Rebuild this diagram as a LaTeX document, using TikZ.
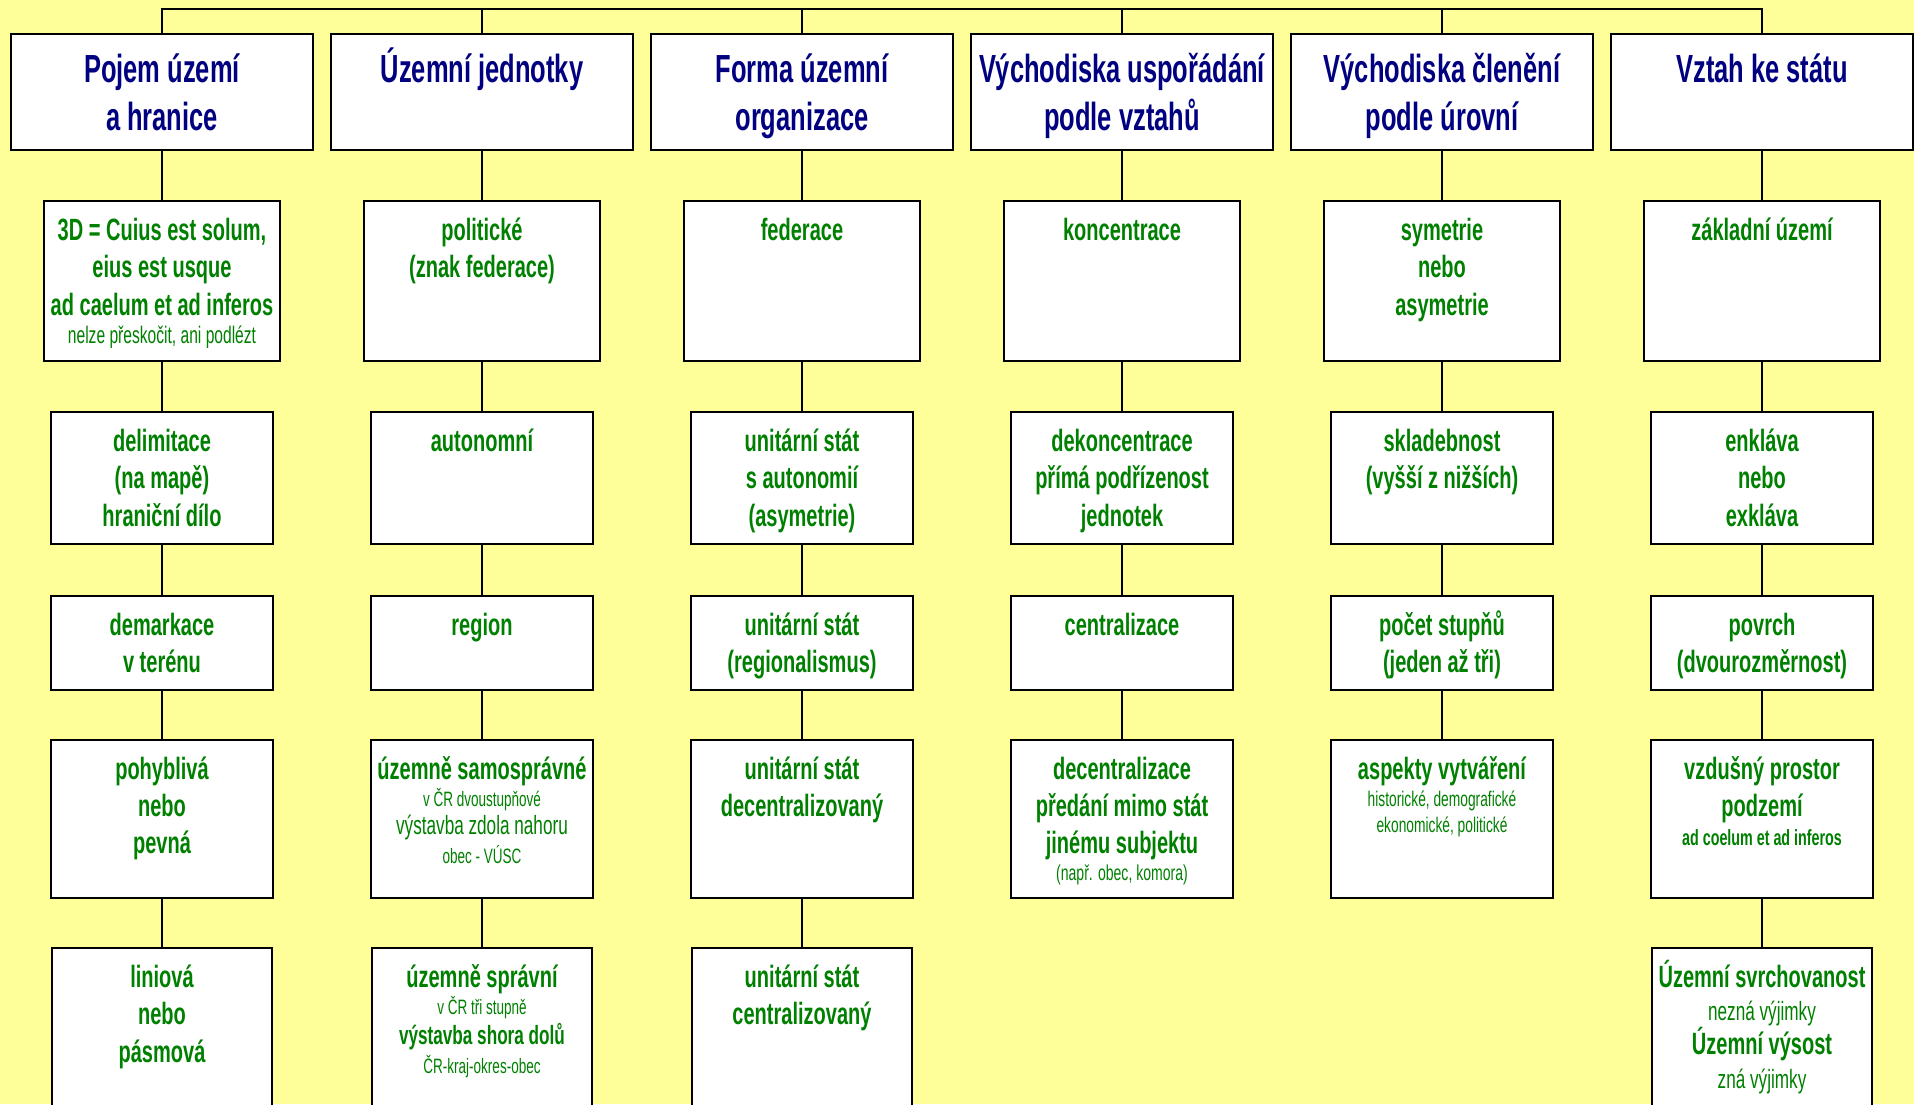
\documentclass[tikz,border=0pt]{standalone}
\usepackage{fontspec}
\setmainfont[FakeStretch=0.65]{Liberation Sans}
\usetikzlibrary{positioning}

\definecolor{bgyellow}{RGB}{255,255,153}
\definecolor{headblue}{RGB}{0,0,128}
\definecolor{itemgreen}{RGB}{0,128,0}

% one line of text inside a box, each line is its own paragraph
\newcommand{\headtxt}[1]{{\fontsize{19.6}{24.4}\selectfont\bfseries #1\par}}
\newcommand{\itemtxt}[2][18.6]{{\fontsize{15.4}{#1}\selectfont\bfseries #2\par}}
\newcommand{\notetxt}[3][15]{{\fontsize{#2}{#1}\selectfont #3\par}}

\begin{document}
\begin{tikzpicture}[
    x=0.5pt, y=-0.5pt,
    headbox/.style={draw=black, line width=1pt, fill=white, inner sep=0pt, anchor=north, text=headblue,
        execute at begin node={\begin{minipage}[t][58pt][t]{151.35pt}\centering\leavevmode\rule{0pt}{24pt}},
        execute at end node={\end{minipage}}},
    itembox/.style 2 args={draw=black, line width=1pt, fill=white, inner sep=0pt, anchor=north, text=itemgreen,
        execute at begin node={\begin{minipage}[t][#2][t]{#1}\centering\leavevmode\rule{0pt}{19.8pt}},
        execute at end node={\end{minipage}}},
    rowtwo/.style={itembox={117.8pt}{80pt}},
    rowthree/.style={itembox={111pt}{66pt}},
    rowfour/.style={itembox={111pt}{47pt}},
    rowfive/.style={itembox={111pt}{79.25pt}},
    rowsix/.style={itembox={110pt}{100pt}},
    link/.style={line width=0.7pt, draw=black}
]

\useasboundingbox (0,0) rectangle (1914,1104);
\fill[bgyellow] (0,0) rectangle (1914,1104);
\clip (0,0) rectangle (1914,1104);

% Headers
\node[headbox] (pojem) at (162,33) {\headtxt{Pojem území}\headtxt{a hranice}};
\node[headbox] (jednotky) at (482,33) {\headtxt{Územní jednotky}};
\node[headbox] (forma) at (802,33) {\headtxt{Forma územní}\headtxt{organizace}};
\node[headbox] (vztahy) at (1122,33) {\headtxt{Východiska uspořádání}\headtxt{podle vztahů}};
\node[headbox] (urovne) at (1442,33) {\headtxt{Východiska členění}\headtxt{podle úrovní}};
\node[headbox] (stat) at (1762,33) {\headtxt{Vztah ke státu}};

\coordinate (bus) at (0,9);

% Second row
\node[rowtwo] (pojemA) at (162,200) {\itemtxt{3D = Cuius est solum,}\itemtxt{eius est usque}\itemtxt{ad caelum et ad inferos}\notetxt[14.4]{12}{nelze přeskočit, ani podlézt}};
\node[rowtwo] (jednotkyA) at (482,200) {\itemtxt{politické}\itemtxt{(znak federace)}};
\node[rowtwo] (formaA) at (802,200) {\itemtxt{federace}};
\node[rowtwo] (vztahyA) at (1122,200) {\itemtxt{koncentrace}};
\node[rowtwo] (urovneA) at (1442,200) {\itemtxt{symetrie}\itemtxt{nebo}\itemtxt{asymetrie}};
\node[rowtwo] (statA) at (1762,200) {\itemtxt{základní území}};

% Third row
\node[rowthree] (pojemB) at (162,411) {\itemtxt{delimitace}\itemtxt{(na mapě)}\itemtxt{hraniční dílo}};
\node[rowthree] (jednotkyB) at (482,411) {\itemtxt{autonomní}};
\node[rowthree] (formaB) at (802,411) {\itemtxt{unitární stát}\itemtxt{s autonomií}\itemtxt{(asymetrie)}};
\node[rowthree] (vztahyB) at (1122,411) {\itemtxt{dekoncentrace}\itemtxt{přímá podřízenost}\itemtxt{jednotek}};
\node[rowthree] (urovneB) at (1442,411) {\itemtxt{skladebnost}\itemtxt{(vyšší z nižších)}};
\node[rowthree] (statB) at (1762,411) {\itemtxt{enkláva}\itemtxt{nebo}\itemtxt{exkláva}};

% Fourth row
\node[rowfour] (pojemC) at (162,594.5) {\itemtxt{demarkace}\itemtxt{v terénu}};
\node[rowfour] (jednotkyC) at (482,594.5) {\itemtxt{region}};
\node[rowfour] (formaC) at (802,594.5) {\itemtxt{unitární stát}\itemtxt{(regionalismus)}};
\node[rowfour] (vztahyC) at (1122,594.5) {\itemtxt{centralizace}};
\node[rowfour] (urovneC) at (1442,594.5) {\itemtxt{počet stupňů}\itemtxt{(jeden až tři)}};
\node[rowfour] (statC) at (1762,594.5) {\itemtxt{povrch}\itemtxt{(dvourozměrnost)}};

% Fifth row
\node[rowfive] (pojemD) at (162,738.5) {\itemtxt{pohyblivá}\itemtxt{nebo}\itemtxt{pevná}};
\node[rowfive] (jednotkyD) at (482,738.5) {\itemtxt{územně samosprávné}\notetxt[13.8]{10.4}{v ČR dvoustupňové}\notetxt[14]{13.2}{výstavba zdola nahoru}\notetxt[14.6]{10.4}{obec - VÚSC}};
\node[rowfive] (formaD) at (802,738.5) {\itemtxt{unitární stát}\itemtxt{decentralizovaný}};
\node[rowfive] (vztahyD) at (1122,738.5) {\itemtxt{decentralizace}\itemtxt{předání mimo stát}\itemtxt{jinému subjektu}\notetxt[13.4]{10.8}{(např. obec, komora)}};
\node[rowfive] (urovneD) at (1442,738.5) {\itemtxt{aspekty vytváření}\notetxt[13.8]{10.6}{historické, demografické}\notetxt[12.8]{10.6}{ekonomické, politické}};
\node[rowfive] (statD) at (1762,738.5) {\itemtxt{vzdušný prostor}\itemtxt{podzemí}\notetxt[14.6]{11}{\bfseries ad coelum et ad inferos}};

% Sixth row (runs past the lower edge)
\node[rowsix] (pojemE) at (162,947) {\itemtxt{liniová}\itemtxt{nebo}\itemtxt{pásmová}};
\node[rowsix] (jednotkyE) at (482,947) {\itemtxt{územně správní}\notetxt[13.6]{10.4}{v ČR tři stupně}\notetxt[15]{13.2}{\bfseries výstavba shora dolů}\notetxt[14.4]{10.4}{ČR-kraj-okres-obec}};
\node[rowsix] (formaE) at (802,947) {\itemtxt{unitární stát}\itemtxt{centralizovaný}};
\node[rowsix] (statE) at (1762,947) {\itemtxt{Územní svrchovanost}\notetxt[16.6]{13.2}{nezná výjimky}\itemtxt[17]{Územní výsost}\notetxt[16.6]{13.2}{zná výjimky}};

% Lines
\draw[link] (pojem.north) -- (pojem.north |- bus) -- (stat.north |- bus) -- (stat.north);
\draw[link] (jednotky.north) -- (jednotky.north |- bus);
\draw[link] (forma.north) -- (forma.north |- bus);
\draw[link] (vztahy.north) -- (vztahy.north |- bus);
\draw[link] (urovne.north) -- (urovne.north |- bus);

\draw[link] (pojem) -- (pojemA) (pojemA) -- (pojemB) (pojemB) -- (pojemC) (pojemC) -- (pojemD) (pojemD) -- (pojemE);
\draw[link] (jednotky) -- (jednotkyA) (jednotkyA) -- (jednotkyB) (jednotkyB) -- (jednotkyC) (jednotkyC) -- (jednotkyD) (jednotkyD) -- (jednotkyE);
\draw[link] (forma) -- (formaA) (formaA) -- (formaB) (formaB) -- (formaC) (formaC) -- (formaD) (formaD) -- (formaE);
\draw[link] (vztahy) -- (vztahyA) (vztahyA) -- (vztahyB) (vztahyB) -- (vztahyC) (vztahyC) -- (vztahyD);
\draw[link] (urovne) -- (urovneA) (urovneA) -- (urovneB) (urovneB) -- (urovneC) (urovneC) -- (urovneD);
\draw[link] (stat) -- (statA) (statA) -- (statB) (statB) -- (statC) (statC) -- (statD) (statD) -- (statE);

\end{tikzpicture}
\end{document}
